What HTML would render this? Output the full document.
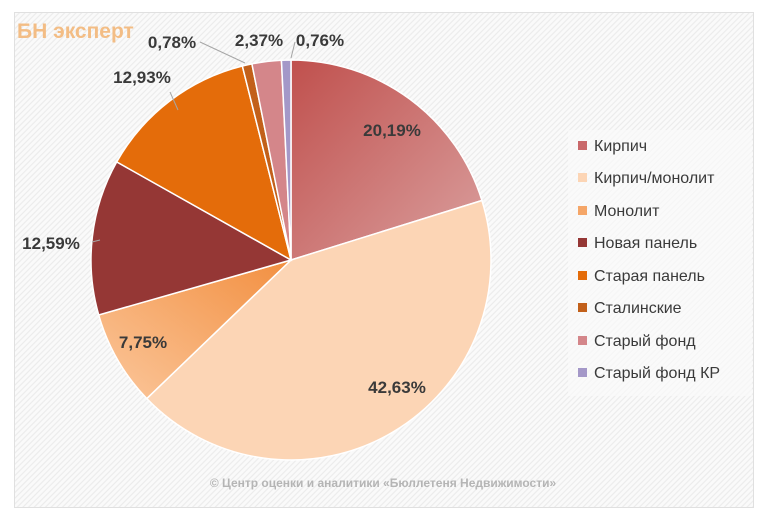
<!DOCTYPE html>
<html><head><meta charset="utf-8"><style>
body{margin:0;width:768px;height:521px;background:#fff;overflow:hidden;font-family:"Liberation Sans","DejaVu Sans",sans-serif}
#frame{position:absolute;left:14px;top:12px;width:738px;height:494px;border:1px solid #e0e0e0;background:repeating-linear-gradient(135deg,#fafafa 0px,#fafafa 2px,#e9e9e9 3px,#fafafa 4px)}
#leg{position:absolute;left:568px;top:130px;width:184px;height:266px;background:rgba(250,250,250,0.7)}
.li{position:absolute;left:10px;font-size:16px;color:#3a3a3a;white-space:nowrap}
.li i{display:inline-block;width:9px;height:9px;margin-right:7px;vertical-align:1px}
</style></head><body>
<div id="frame"></div>
<div id="leg">
<div class="li" style="top:8px"><i style="background:#c9686a"></i>Кирпич</div>
<div class="li" style="top:40px"><i style="background:#fcd5b5"></i>Кирпич/монолит</div>
<div class="li" style="top:73px"><i style="background:#f5a668"></i>Монолит</div>
<div class="li" style="top:105px"><i style="background:#953735"></i>Новая панель</div>
<div class="li" style="top:138px"><i style="background:#e46c0a"></i>Старая панель</div>
<div class="li" style="top:170px"><i style="background:#c2601a"></i>Сталинские</div>
<div class="li" style="top:203px"><i style="background:#d4868a"></i>Старый фонд</div>
<div class="li" style="top:235px"><i style="background:#a498c8"></i>Старый фонд КР</div>
</div>
<svg id="s" width="768" height="521" style="position:absolute;left:0;top:0">
<defs>
<linearGradient id="g0" x1="0" y1="0" x2="1" y2="1"><stop offset="0" stop-color="#c0504d"/><stop offset="1" stop-color="#daa09f"/></linearGradient>
<linearGradient id="g2" x1="0" y1="1" x2="1" y2="0"><stop offset="0" stop-color="#fbc79c"/><stop offset="1" stop-color="#f28f40"/></linearGradient>
</defs>
<g id="pie"></g>
<g stroke="#a6a6a6" stroke-width="1" fill="none">
<path d="M200,42 L245,63"/><path d="M295,42 L291,58"/><path d="M92,242 L100,240"/><path d="M170,92 L178,110"/>
</g>
<g font-size="17" font-weight="bold" fill="#3a3a3a" text-anchor="middle">
<text x="392" y="136">20,19%</text>
<text x="397" y="393">42,63%</text>
<text x="143" y="348">7,75%</text>
<text x="51" y="249">12,59%</text>
<text x="142" y="83">12,93%</text>
<text x="172" y="48">0,78%</text>
<text x="259" y="46">2,37%</text>
<text x="320" y="46">0,76%</text>
</g>
<text x="17" y="38" font-size="21" font-weight="bold" fill="#f3bd85">БН эксперт</text>
<text x="383" y="487" font-size="12" font-weight="bold" fill="#b5b5b5" text-anchor="middle">© Центр оценки и аналитики «Бюллетеня Недвижимости»</text>
</svg>
<script>
var v=[20.19,42.63,7.75,12.59,12.93,0.78,2.37,0.76];
var c=["url(#g0)","#fcd5b5","url(#g2)","#953735","#e46c0a","#c2601a","#d4868a","#a498c8"];
var cx=291,cy=260,r=200,a=0,h="";
for(var i=0;i<v.length;i++){var b=a+v[i]/100*2*Math.PI;
var x1=cx+r*Math.sin(a),y1=cy-r*Math.cos(a),x2=cx+r*Math.sin(b),y2=cy-r*Math.cos(b);
h+='<path d="M'+cx+','+cy+' L'+x1+','+y1+' A'+r+','+r+' 0 '+((b-a)>Math.PI?1:0)+' 1 '+x2+','+y2+' Z" fill="'+c[i]+'" stroke="#fff" stroke-width="1.5"/>';a=b;}
document.getElementById("pie").innerHTML=h;
</script>
</body></html>
